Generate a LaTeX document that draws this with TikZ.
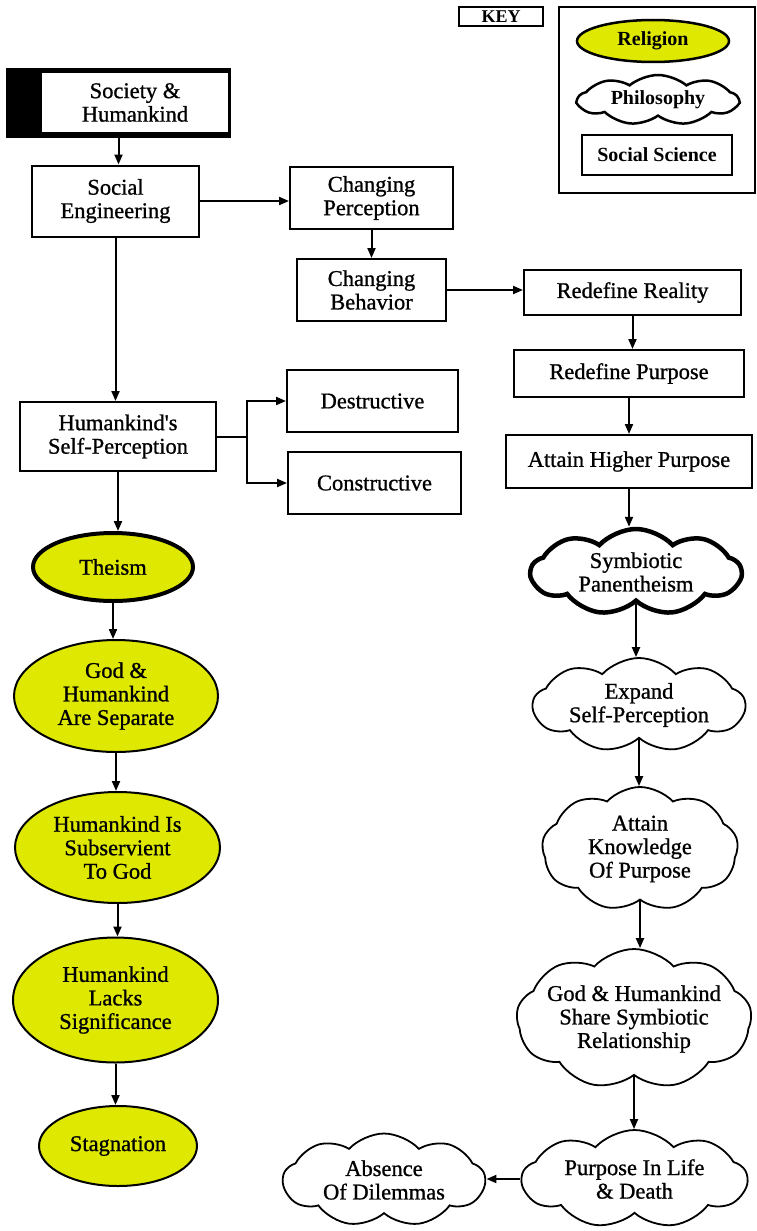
\documentclass[tikz,border=0pt]{standalone}
\usepackage{fontspec}
\setmainfont{Liberation Serif}
\newfontfamily\diaf{Liberation Serif}[FakeBold=0.9]
\usetikzlibrary{shapes.geometric,shapes.symbols,arrows.meta,calc}
\definecolor{relig}{RGB}{222,232,0}
\begin{document}
\begin{tikzpicture}[x=1pt,y=-1pt,
  txt/.style={font=\diaf\fontsize{22.5}{23.5}\selectfont, align=center},
  boxn/.style={txt, draw, line width=2pt, rectangle, inner sep=0pt, fill=white},
  relnode/.style={txt, draw, line width=2pt, ellipse, inner sep=0pt, fill=relig},
  cloudn/.style={draw, line width=1.8pt, cloud, cloud puffs=9, cloud puff arc=95, aspect=2.2, inner sep=0pt, fill=white},
  arr/.style={line width=2pt, -{Triangle[length=10pt,width=8pt]}},
  conn/.style={line width=2pt},
  keyt/.style={font=\fontsize{20}{22}\selectfont\bfseries, align=center}
]
\useasboundingbox (0,0) rectangle (757,1231);
\fill[white] (0,0) rectangle (757,1231);

% key
\node[draw, line width=1.5pt, rectangle, minimum width=84pt, minimum height=19pt, inner sep=0pt, font=\fontsize{18}{20}\selectfont\bfseries] (key) at (501,16.5) {KEY};
\node[draw, line width=1.5pt, rectangle, minimum width=196pt, minimum height=186pt, inner sep=0pt] (keyframe) at (657,100) {};
\node[keyt, draw, line width=2.5pt, ellipse, fill=relig, minimum width=152pt, minimum height=42pt, inner sep=0pt] (krel) at (653,41) {Religion};
\node[draw, line width=2.5pt, cloud, cloud puffs=9, cloud puff arc=80, aspect=3.2, minimum width=160pt, minimum height=50pt, inner sep=0pt] (kphil) at (658,100) {};
\node[keyt] (kphilt) at (kphil.center) {Philosophy};
\node[keyt, draw, line width=2.5pt, rectangle, minimum width=150pt, minimum height=40pt, inner sep=0pt] (ksoc) at (657,155) {Social Science};

% top
\node[fill=black, rectangle, minimum width=225pt, minimum height=70pt, inner sep=0pt] (soco) at (118.5,103) {};
\node[txt, fill=white, rectangle, minimum width=186pt, minimum height=59pt, inner sep=0pt] (soc) at (135,102.5) {Society \&\\Humankind};
\node[boxn, minimum width=167pt, minimum height=71pt] (eng) at (115.5,201) {Social\\Engineering};
\node[boxn, minimum width=163pt, minimum height=62pt] (perc) at (371.5,198) {Changing\\Perception};
\node[boxn, minimum width=149pt, minimum height=62pt] (beh) at (371.5,290) {Changing\\Behavior};
\node[boxn, minimum width=217pt, minimum height=45pt] (real) at (632.5,292.5) {Redefine Reality};
\node[boxn, minimum width=230pt, minimum height=47pt] (purp) at (629,373.5) {Redefine Purpose};
\node[boxn, minimum width=246pt, minimum height=53pt] (higher) at (629,461.5) {Attain Higher Purpose};
\node[boxn, minimum width=196pt, minimum height=69pt] (self) at (118,436.5) {Humankind's\\Self-Perception};
\node[boxn, minimum width=171pt, minimum height=62pt] (destr) at (372.5,401) {Destructive};
\node[boxn, minimum width=173pt, minimum height=62pt] (constr) at (374.5,483) {Constructive};

% religion column
\node[relnode, line width=4pt, minimum width=160pt, minimum height=68pt] (theism) at (113,567) {Theism};
\node[relnode, minimum width=204pt, minimum height=112pt] (sep) at (116,696) {God \&\\Humankind\\Are Separate};
\node[relnode, minimum width=205pt, minimum height=111pt] (sub) at (117.5,847.5) {Humankind Is\\Subservient\\To God};
\node[relnode, minimum width=205pt, minimum height=125pt] (lacks) at (115.5,1000) {Humankind\\Lacks\\Significance};
\node[relnode, minimum width=158pt, minimum height=80pt] (stag) at (118,1146) {Stagnation};

% philosophy column
\node[cloudn, line width=4.5pt, minimum width=210pt, minimum height=86pt] (symb) at (636,572) {};
\node[txt] (symbt) at (symb.center) {Symbiotic\\Panentheism};
\node[cloudn, minimum width=212pt, minimum height=94pt] (expand) at (639,705) {};
\node[txt] (expandt) at (expand.center) {Expand\\Self-Perception};
\node[cloudn, aspect=1.6, minimum width=196pt, minimum height=124pt] (know) at (640,849) {};
\node[txt] (knowt) at (know.center) {Attain\\Knowledge\\Of Purpose};
\node[cloudn, aspect=1.7, minimum width=235pt, minimum height=140pt] (share) at (634,1019) {};
\node[txt] (sharet) at (share.center) {God \& Humankind\\Share Symbiotic\\Relationship};
\node[cloudn, minimum width=225pt, minimum height=98pt] (life) at (634.5,1179) {};
\node[txt] (lifet) at (life.center) {Purpose In Life\\\& Death};
\node[cloudn, minimum width=202pt, minimum height=93pt] (absence) at (384,1180) {};
\node[txt] (absencet) at (absence.center) {Absence\\Of Dilemmas};

% connectors
\draw[arr] (soco.south) -- (soco.south |- eng.north);
\draw[arr] (eng.east) -- (eng.east -| perc.west);
\draw[arr] (perc.south) -- (beh.north);
\draw[arr] (beh.east) -- (beh.east -| real.west);
\draw[arr] (real.south) -- (real.south |- purp.north);
\draw[arr] (purp.south) -- (higher.north);
\draw[arr] (higher.south) -- (higher.south |- symb.north);
\draw[arr] (eng.south) -- (eng.south |- self.north);
\coordinate (br) at ($(self.east)+(30,0)$);
\draw[conn] (self.east) -- (br);
\draw[arr] (br) |- (destr.west);
\draw[arr] (br) |- (constr.west);
\draw[arr] (self.south) -- (self.south |- theism.north);
\draw[arr] (theism.south) -- (theism.south |- sep.north);
\draw[arr] (sep.south) -- (sep.south |- sub.north);
\draw[arr] (sub.south) -- (sub.south |- lacks.north);
\draw[arr] (lacks.south) -- (lacks.south |- stag.north);
\draw[arr] (symb.south) -- (symb.south |- expand.north);
\draw[arr] (expand.south) -- (expand.south |- know.north);
\draw[arr] (know.south) -- (know.south |- share.north);
\draw[arr] (share.south) -- (share.south |- life.north);
\draw[arr] (life.west) -- (life.west -| absence.east);
\end{tikzpicture}
\end{document}
